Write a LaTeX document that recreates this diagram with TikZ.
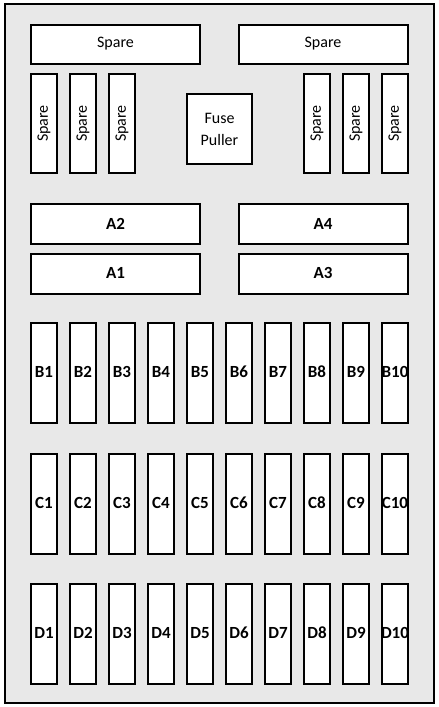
\documentclass[tikz,border=0pt]{standalone}
\usepackage{fontspec}
\setmainfont{Carlito}
\begin{document}
\begin{tikzpicture}[x=1pt,y=-1pt,
  box/.style={draw=black,line width=2pt,fill=white,inner sep=0pt,font=\fontsize{16}{18}\selectfont},
  fuse/.style={box,minimum width=26pt,minimum height=100pt,text height=10pt,text depth=0pt,font=\bfseries\fontsize{17}{18}\selectfont},
  wide/.style={box,minimum width=169pt,minimum height=39pt},
  amp/.style={box,minimum width=169pt,minimum height=40pt,text height=10pt,text depth=0pt,font=\bfseries\fontsize{17}{18}\selectfont},
  vspare/.style={box,minimum width=26pt,minimum height=99pt}]
\useasboundingbox (0,0) rectangle (439,707);
\fill[white] (0,0) rectangle (439,707);
\draw[line width=2pt,fill={rgb,255:red,232;green,232;blue,232}] (5,4) rectangle (434,703);
% top spares
\node[wide] (st1) at (115.5,44) {Spare};
\node[wide] (st2) at (323,44) {Spare};
% vertical spares
\node[vspare] (sv1) at (44,123.5) {\rotatebox{90}{Spare}};
\node[vspare] (sv2) at (83,123.5) {\rotatebox{90}{Spare}};
\node[vspare] (sv3) at (122,123.5) {\rotatebox{90}{Spare}};
\node[vspare] (sv4) at (317,123.5) {\rotatebox{90}{Spare}};
\node[vspare] (sv5) at (356,123.5) {\rotatebox{90}{Spare}};
\node[vspare] (sv6) at (395,123.5) {\rotatebox{90}{Spare}};
% fuse puller
\node[box,minimum width=65pt,minimum height=70pt,align=center,font=\fontsize{16}{22}\selectfont] (fp) at (219.5,129) {Fuse\\Puller};
% A fuses
\node[amp] (A2) at (115.5,224) {A2};
\node[amp] (A4) at (323,224) {A4};
\node[amp] (A1) at (115.5,273.5) {A1};
\node[amp] (A3) at (323,273.5) {A3};
% B, C, D rows
\foreach \r/\yy in {B/372.5,C/503.5,D/633.5}{
  \foreach \i in {1,...,9}{
    \node[fuse] (\r\i) at ({44+39*(\i-1)},\yy) {\r\i};
  }
  \node[fuse] (\r10) at (395,\yy) {\hspace*{-2pt}\r10\hspace*{-2pt}};
}
\end{tikzpicture}
\end{document}
